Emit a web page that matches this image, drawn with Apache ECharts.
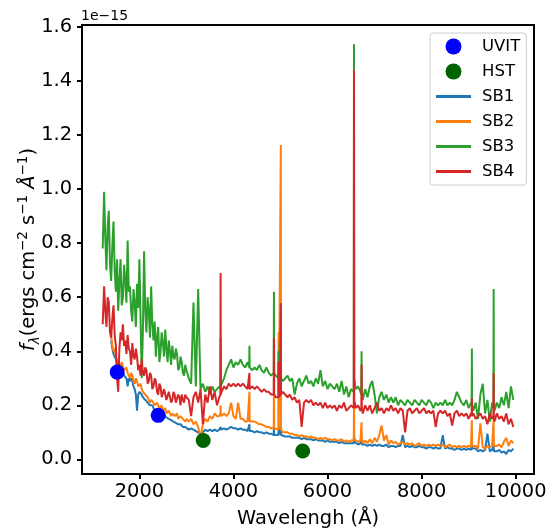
<!DOCTYPE html>
<html>
<head>
<meta charset="utf-8">
<script src="https://cdn.jsdelivr.net/npm/echarts@6/dist/echarts.min.js"></script>
<style>html,body{margin:0;padding:0;background:#fff;}#c{width:557px;height:528px;}</style>
</head>
<body>
<div id="c"></div>
<script>
// Wavelength samples (Angstrom)
const wave = [
  1220,1250,1275,1300,1325,1350,1375,1400,1425,1450,
  1475,1500,1525,1550,1575,1600,1625,1650,1675,1700,
  1725,1750,1775,1800,1825,1850,1875,1900,1925,1950,
  1975,2000,2025,2050,2075,2100,2125,2150,2175,2200,
  2225,2250,2275,2300,2325,2350,2375,2400,2425,2450,
  2475,2500,2525,2550,2575,2600,2625,2650,2675,2700,
  2725,2750,2775,2800,2825,2850,2875,2900,2925,2950,
  2975,3000,3050,3100,3150,
  3200,3250,3300,3350,3400,3450,3500,3550,3600,3650,
  3700,3722,3727,3732,3750,3800,3850,3900,3950,4000,
  4050,4100,4150,4200,4250,4300,4335,4340,4345,4400,
  4450,4500,4550,4600,4650,4700,4750,4800,4856,4861,
  4866,4900,4954,4959,4964,5002,5007,5012,5050,5100,
  5150,5200,5250,5300,5350,5400,5450,5500,5550,5600,
  5650,5700,5750,5800,5850,5900,5950,6000,6050,6100,
  6150,6200,6250,6300,6350,6400,6450,6500,6558,6563,
  6568,6600,6650,6700,6719,6724,6729,6750,6800,6850,
  6900,6950,7000,7050,7100,7150,7200,7250,7300,7350,
  7400,7450,7500,7550,7600,7650,7700,7750,7800,7850,
  7900,7950,8000,8050,8100,8150,8200,8250,8300,8350,
  8400,8450,8500,8550,8600,8650,8700,8750,8800,8850,
  8900,8950,9000,9050,9064,9069,9074,9100,9150,9200,
  9250,9300,9350,9400,9450,9500,9527,9532,9537,9550,
  9600,9650,9700,9750,9800,9850,9900,9950
];
// Flux in units of 1e-15 erg/s/cm2/A
const sb1 = [
  null,null,null,null,null,null,null,0.44,0.41,0.39,
  0.38,0.37,0.35,0.36,0.34,0.33,0.34,0.34,0.31,0.31,
  0.30,0.27,0.30,0.29,0.30,0.29,0.27,0.26,0.24,0.18,
  0.24,0.25,0.25,0.24,0.23,0.23,0.22,0.22,0.21,0.21,
  0.20,0.20,0.20,0.19,0.18,0.18,0.185,0.18,0.17,0.17,
  0.165,0.16,0.165,0.17,0.155,0.15,0.15,0.15,0.145,0.14,
  0.14,0.14,0.135,0.135,0.13,0.13,0.13,0.125,0.12,0.12,
  0.12,0.12,0.11,0.115,0.11,
  0.105,0.10,0.09,0.10,0.11,0.105,0.11,0.105,0.11,0.105,
  0.11,0.11,0.12,0.11,0.11,0.115,0.11,0.115,0.12,0.115,
  0.115,0.11,0.115,0.11,0.11,0.105,0.105,0.13,0.105,0.105,
  0.10,0.105,0.10,0.10,0.095,0.10,0.095,0.095,0.09,0.12,
  0.09,0.09,0.09,0.11,0.09,0.09,0.13,0.09,0.09,0.085,
  0.085,0.085,0.08,0.08,0.08,0.08,0.075,0.08,0.075,0.075,
  0.075,0.07,0.075,0.07,0.07,0.07,0.065,0.07,0.065,0.065,
  0.065,0.065,0.06,0.065,0.06,0.06,0.06,0.06,0.06,0.10,
  0.065,0.06,0.055,0.06,0.055,0.07,0.055,0.055,0.055,0.05,
  0.055,0.05,0.055,0.05,0.055,0.05,0.05,0.055,0.045,0.05,
  0.05,0.045,0.05,0.05,0.09,0.045,0.05,0.045,0.05,0.045,
  0.045,0.05,0.045,0.045,0.04,0.045,0.045,0.04,0.045,0.04,
  0.04,0.09,0.04,0.045,0.04,0.04,0.035,0.04,0.04,0.035,
  0.04,0.035,0.04,0.035,0.04,0.05,0.04,0.035,0.04,0.03,
  0.035,0.03,0.035,0.095,0.03,0.035,0.03,0.05,0.03,0.035,
  0.03,0.035,0.025,0.03,0.02,0.035,0.03,0.04
];
const sb2 = [
  null,null,null,null,null,null,null,0.46,0.42,0.40,
  0.41,0.38,0.36,0.37,0.35,0.34,0.36,0.36,0.33,0.33,
  0.34,0.32,0.31,0.30,0.32,0.31,0.29,0.28,0.30,0.29,
  0.27,0.27,0.28,0.26,0.25,0.25,0.24,0.24,0.23,0.23,
  0.21,0.22,0.22,0.21,0.20,0.20,0.21,0.21,0.19,0.19,
  0.20,0.18,0.18,0.19,0.17,0.17,0.18,0.18,0.16,0.17,
  0.17,0.16,0.16,0.17,0.15,0.15,0.16,0.16,0.15,0.15,
  0.14,0.15,0.14,0.15,0.13,
  0.14,0.12,0.08,0.13,0.15,0.14,0.16,0.15,0.17,0.16,
  0.16,0.17,0.20,0.17,0.16,0.17,0.16,0.17,0.21,0.16,
  0.15,0.21,0.15,0.15,0.14,0.14,0.14,0.25,0.14,0.14,
  0.14,0.135,0.13,0.13,0.125,0.12,0.12,0.115,0.115,0.30,
  0.115,0.11,0.11,0.47,0.11,0.11,1.163,0.11,0.10,0.10,
  0.10,0.095,0.095,0.09,0.09,0.085,0.09,0.085,0.085,0.08,
  0.085,0.08,0.08,0.075,0.08,0.075,0.08,0.075,0.075,0.07,
  0.075,0.07,0.07,0.075,0.065,0.07,0.065,0.07,0.07,0.226,
  0.08,0.07,0.065,0.07,0.075,0.137,0.075,0.06,0.07,0.06,
  0.075,0.06,0.08,0.065,0.09,0.125,0.07,0.09,0.055,0.07,
  0.06,0.065,0.055,0.06,0.065,0.055,0.06,0.055,0.06,0.05,
  0.055,0.06,0.05,0.055,0.05,0.055,0.05,0.055,0.05,0.055,
  0.05,0.055,0.045,0.05,0.055,0.045,0.05,0.045,0.05,0.045,
  0.05,0.045,0.05,0.045,0.05,0.145,0.05,0.045,0.05,0.04,
  0.133,0.045,0.04,0.05,0.045,0.05,0.05,0.15,0.05,0.045,
  0.05,0.055,0.045,0.065,0.08,0.05,0.07,0.06
];
const sb3 = [
  0.78,0.99,0.82,0.70,0.86,0.92,0.72,0.66,0.79,0.88,
  0.70,0.62,0.74,0.55,0.66,0.74,0.57,0.60,0.72,0.66,
  0.58,0.81,0.62,0.64,0.55,0.51,0.63,0.58,0.49,0.65,
  0.56,0.74,0.52,0.30,0.48,0.77,0.55,0.47,0.60,0.55,
  0.45,0.64,0.50,0.44,0.51,0.38,0.45,0.49,0.36,0.40,
  0.47,0.43,0.38,0.48,0.41,0.36,0.44,0.40,0.35,0.42,
  0.38,0.37,0.41,0.39,0.33,0.34,0.38,0.36,0.32,0.31,
  0.35,0.33,0.30,0.28,0.58,
  0.27,0.63,0.26,0.28,0.25,0.27,0.24,0.27,0.25,0.26,
  0.27,0.26,0.45,0.27,0.28,0.30,0.33,0.35,0.37,0.34,
  0.36,0.35,0.37,0.35,0.34,0.36,0.34,0.42,0.34,0.33,
  0.34,0.33,0.35,0.33,0.32,0.34,0.32,0.31,0.32,0.62,
  0.32,0.31,0.30,0.40,0.30,0.30,0.55,0.30,0.29,0.30,
  0.31,0.29,0.30,0.24,0.28,0.30,0.27,0.29,0.31,0.28,
  0.29,0.27,0.30,0.28,0.33,0.27,0.29,0.26,0.28,0.27,
  0.26,0.28,0.25,0.29,0.24,0.27,0.23,0.26,0.25,1.536,
  0.30,0.26,0.27,0.25,0.24,0.40,0.25,0.22,0.26,0.23,
  0.27,0.29,0.24,0.17,0.23,0.25,0.22,0.24,0.21,0.23,
  0.21,0.23,0.20,0.22,0.21,0.20,0.22,0.21,0.20,0.22,
  0.21,0.20,0.22,0.21,0.20,0.22,0.21,0.19,0.21,0.20,
  0.21,0.20,0.22,0.20,0.21,0.20,0.22,0.25,0.23,0.21,
  0.20,0.22,0.19,0.21,0.20,0.41,0.20,0.18,0.21,0.15,
  0.24,0.28,0.17,0.22,0.14,0.21,0.19,0.63,0.20,0.18,
  0.21,0.19,0.23,0.20,0.25,0.19,0.27,0.22
];
const sb4 = [
  0.50,0.64,0.55,0.49,0.60,0.58,0.47,0.45,0.52,0.57,
  0.46,0.42,0.30,0.25,0.41,0.47,0.44,0.50,0.42,0.44,
  0.39,0.46,0.41,0.40,0.35,0.43,0.38,0.37,0.41,0.38,
  0.33,0.35,0.31,0.37,0.32,0.31,0.34,0.33,0.28,0.29,
  0.32,0.31,0.26,0.27,0.30,0.29,0.25,0.24,0.28,0.27,
  0.23,0.23,0.26,0.26,0.22,0.22,0.25,0.25,0.21,0.22,
  0.25,0.24,0.21,0.21,0.24,0.23,0.20,0.24,0.22,0.21,
  0.24,0.23,0.22,0.16,0.23,
  0.25,0.21,0.26,0.13,0.24,0.21,0.27,0.22,0.25,0.20,
  0.23,0.24,0.69,0.24,0.25,0.27,0.26,0.28,0.27,0.28,
  0.27,0.28,0.27,0.28,0.27,0.26,0.26,0.32,0.26,0.27,
  0.26,0.27,0.26,0.25,0.26,0.25,0.25,0.24,0.24,0.45,
  0.24,0.23,0.23,0.36,0.23,0.24,0.578,0.24,0.25,0.24,
  0.23,0.24,0.22,0.23,0.21,0.22,0.12,0.21,0.22,0.21,
  0.22,0.20,0.21,0.20,0.21,0.19,0.21,0.19,0.20,0.19,
  0.20,0.18,0.20,0.19,0.21,0.18,0.19,0.20,0.19,1.44,
  0.22,0.19,0.20,0.18,0.19,0.35,0.19,0.17,0.20,0.18,
  0.20,0.17,0.19,0.21,0.18,0.19,0.17,0.19,0.18,0.20,
  0.18,0.19,0.17,0.19,0.18,0.10,0.18,0.19,0.17,0.18,
  0.19,0.17,0.18,0.19,0.17,0.18,0.17,0.18,0.12,0.17,
  0.18,0.17,0.18,0.16,0.17,0.125,0.17,0.18,0.16,0.17,
  0.16,0.17,0.15,0.17,0.16,0.225,0.16,0.17,0.15,0.16,
  0.17,0.15,0.16,0.13,0.17,0.15,0.16,0.32,0.16,0.14,
  0.17,0.15,0.16,0.14,0.17,0.13,0.15,0.12
];
const uvitWave = [1528, 2400];
const uvitFlux = [0.323, 0.163];
const hstWave = [3357, 5472];
const hstFlux = [0.070, 0.031];
const xTicks = [2000, 4000, 6000, 8000, 10000];
const yTicks = [0.0, 0.2, 0.4, 0.6, 0.8, 1.0, 1.2, 1.4, 1.6];
const seriesNames = ['SB1', 'SB2', 'SB3', 'SB4'];
const seriesColors = ['#1f77b4', '#ff7f0e', '#2ca02c', '#d62728'];

const FONT = 'DejaVu Sans';
const X_MIN = 780, X_MAX = 10390, Y_MIN = -0.054, Y_MAX = 1.607;
const zip = (xs, ys) => xs.map((x, i) => [x, ys[i]]);
const spectra = [sb1, sb2, sb3, sb4];

const chart = echarts.init(document.getElementById('c'), null, {renderer: 'canvas'});
const lineIcon = 'path://M0 0H35V3H0Z';

const series = spectra.map((vals, i) => ({
  name: seriesNames[i],
  type: 'line',
  xAxisIndex: 0, yAxisIndex: 0,
  data: zip(wave, vals),
  showSymbol: false,
  symbol: 'none',
  connectNulls: false,
  lineStyle: {width: 2, color: seriesColors[i]},
  itemStyle: {color: seriesColors[i]},
  z: 2 + i,
  animation: false
}));
series.push({
  name: 'UVIT', type: 'scatter', xAxisIndex: 0, yAxisIndex: 0, data: zip(uvitWave, uvitFlux),
  symbolSize: 15, itemStyle: {color: '#0000ff', opacity: 1}, z: 10, animation: false
});
series.push({
  name: 'HST', type: 'scatter', xAxisIndex: 0, yAxisIndex: 0, data: zip(hstWave, hstFlux),
  symbolSize: 15, itemStyle: {color: '#006400', opacity: 1}, z: 10, animation: false
});

const frameAxis = {
  axisLine: {show: true, onZero: false, lineStyle: {color: '#000', width: 2}},
  axisTick: {show: false}, axisLabel: {show: false}, splitLine: {show: false}
};

const option = {
  animation: false,
  backgroundColor: '#ffffff',
  textStyle: {fontFamily: FONT},
  grid: {
    left: 82, right: 23, top: 25, bottom: 54,
    containLabel: false, outerBoundsMode: 'none', show: false
  },
  legend: {
    orient: 'vertical',
    left: 430, top: 33,
    padding: [5, 6, 5, 6],
    itemWidth: 35, itemHeight: 16, itemGap: 8,
    backgroundColor: 'rgba(255,255,255,0.8)',
    borderColor: '#cccccc', borderWidth: 1, borderRadius: 3,
    selectedMode: false,
    textStyle: {fontFamily: FONT, fontSize: 16.5, color: '#000', padding: [0, 0, 0, 6]},
    data: [
      {name: 'UVIT', icon: 'circle'},
      {name: 'HST', icon: 'circle'},
      {name: 'SB1', icon: lineIcon},
      {name: 'SB2', icon: lineIcon},
      {name: 'SB3', icon: lineIcon},
      {name: 'SB4', icon: lineIcon}
    ]
  },
  xAxis: [{
    type: 'value', min: X_MIN, max: X_MAX, position: 'bottom',
    name: 'Wavelengh (Å)', nameLocation: 'middle', nameGap: 35, nameMoveOverlap: false,
    nameTextStyle: {fontFamily: FONT, fontSize: 19.4, color: '#000'},
    axisLine: {show: true, onZero: false, lineStyle: {color: '#000', width: 2}},
    axisTick: {show: true, length: 5, lineStyle: {color: '#000', width: 2}, customValues: xTicks},
    axisLabel: {fontFamily: FONT, fontSize: 19.4, color: '#000', margin: 8, customValues: xTicks, formatter: v => String(v)},
    splitLine: {show: false}
  }, Object.assign({type: 'value', min: X_MIN, max: X_MAX, position: 'top'}, frameAxis)],
  yAxis: [{
    type: 'value', min: Y_MIN, max: Y_MAX, position: 'left',
    name: '{f|f}{sub|λ}{t|(ergs cm}{sup|−2}{t| s}{sup|−1}{t| }{a|Å}{sup|−1}{t|)}',
    nameLocation: 'middle', nameRotate: 90, nameGap: 40, nameMoveOverlap: false,
    nameTextStyle: {
      fontFamily: FONT, fontSize: 19.4, color: '#000',
      rich: {
        f: {fontFamily: FONT, fontSize: 19.4, fontStyle: 'italic', lineHeight: 26, verticalAlign: 'middle'},
        t: {fontFamily: FONT, fontSize: 19.4, lineHeight: 26, verticalAlign: 'middle'},
        a: {fontFamily: FONT, fontSize: 19.4, fontStyle: 'italic', lineHeight: 26, verticalAlign: 'middle'},
        sup: {fontFamily: FONT, fontSize: 13.5, lineHeight: 14, verticalAlign: 'top'},
        sub: {fontFamily: FONT, fontSize: 13.5, fontStyle: 'italic', lineHeight: 14, verticalAlign: 'bottom'}
      }
    },
    axisLine: {show: true, onZero: false, lineStyle: {color: '#000', width: 2}},
    axisTick: {show: true, length: 5, lineStyle: {color: '#000', width: 2}, customValues: yTicks},
    axisLabel: {fontFamily: FONT, fontSize: 19.4, color: '#000', margin: 10, customValues: yTicks, formatter: v => v.toFixed(1)},
    splitLine: {show: false}
  }, Object.assign({type: 'value', min: Y_MIN, max: Y_MAX, position: 'right'}, frameAxis)],
  graphic: [{
    type: 'text', left: 81, top: 9,
    style: {text: '1e−15', font: '14px "DejaVu Sans"', fill: '#000'}
  }],
  series: series
};
chart.setOption(option);
</script>
</body>
</html>
